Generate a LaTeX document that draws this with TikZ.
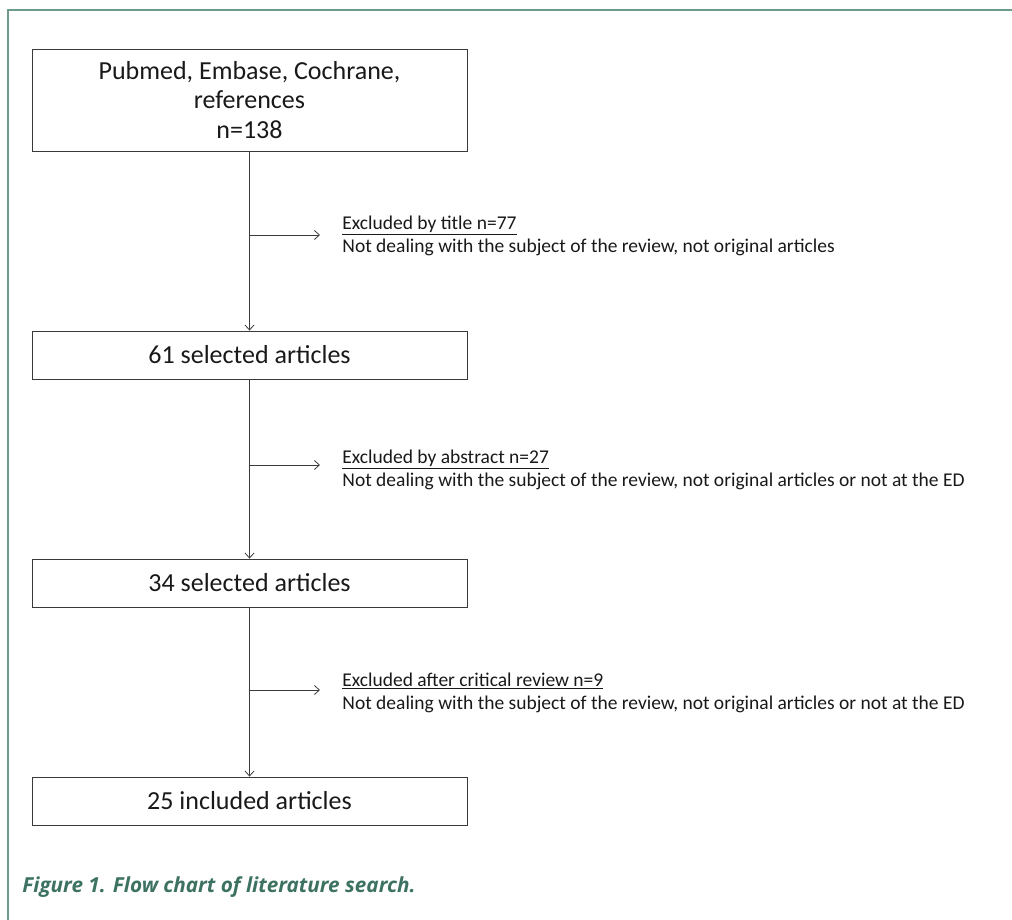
\documentclass[tikz,border=0pt]{standalone}
\usepackage{fontspec}
\setmainfont{Carlito}
\newfontfamily\capfont{Open Sans}
\usetikzlibrary{arrows.meta}
\definecolor{framegreen}{HTML}{6E9C8A}
\definecolor{capgreen}{HTML}{3D7262}
\definecolor{inkgrey}{HTML}{3A3A3A}

\begin{document}
\begin{tikzpicture}[x=1pt, y=-1pt, line width=0.8pt, inkgrey,
  stage/.style={draw=inkgrey, minimum width=435pt, minimum height=48pt, inner sep=0pt,
    align=center, font=\fontsize{26}{29.5}\selectfont, text=black!90},
  excl/.style={anchor=west, align=left, inner sep=0pt,
    font=\fontsize{19.5}{23}\selectfont, text=black!90},
  flow/.style={-{Straight Barb[length=5pt,width=9pt]}}]
  \useasboundingbox (0,0) rectangle (1012,920);
  % The frame round the figure.
  \draw[framegreen, line width=1.6pt] (1012,10) -- (8,10) -- (8,920);
  % The four stages of the search.
  \node[stage, minimum height=102pt] (search) at (249.5,100) {Pubmed, Embase, Cochrane,\\references\\n=138};
  \node[stage] (title) at (249.5,355) {61 selected articles};
  \node[stage] (abstract) at (249.5,583) {34 selected articles};
  \node[stage] (included) at (249.5,801) {25 included articles};
  \draw[flow] (search) -- (title);
  \draw[flow] (title) -- (abstract);
  \draw[flow] (abstract) -- (included);
  % The exclusions, branching off to the right.
  \coordinate (out1) at (249.5,235);
  \coordinate (end1) at (320,235);
  \coordinate (out2) at (249.5,465);
  \coordinate (end2) at (320,465);
  \coordinate (out3) at (249.5,690);
  \coordinate (end3) at (320,690);
  \draw[flow] (out1) -- (end1);
  \draw[flow] (out2) -- (end2);
  \draw[flow] (out3) -- (end3);
  \node[excl] (why1) at (342,236) {\underline{Excluded by title n=77}\\Not dealing with the subject of the review, not original articles};
  \node[excl] (why2) at (342,470) {\underline{Excluded by abstract n=27}\\Not dealing with the subject of the review, not original articles or not at the ED};
  \node[excl] (why3) at (342,693) {\underline{Excluded after critical review n=9}\\Not dealing with the subject of the review, not original articles or not at the ED};
  % Caption.
  \node[anchor=west, inner sep=0pt, text=capgreen, font=\capfont\fontsize{20.7}{23}\selectfont\bfseries\itshape] (caption) at (22,887) {Figure 1. Flow chart of literature search.};
\end{tikzpicture}
\end{document}
